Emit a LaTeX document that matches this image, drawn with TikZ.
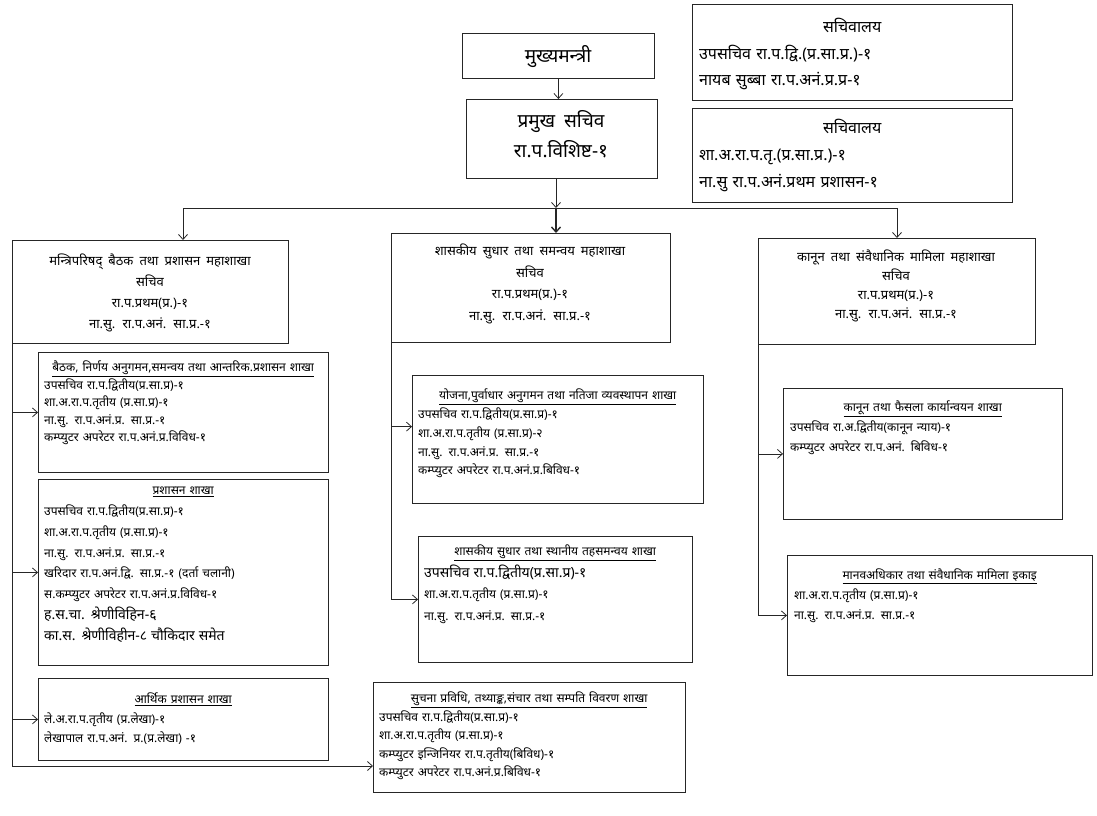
\documentclass[tikz,border=0pt]{standalone}
\usepackage{fontspec}
\newfontfamily\devfont[Script=Devanagari, WordSpace=1.8]{Noto Sans}
\usetikzlibrary{arrows.meta}
\tikzset{
  panel/.style={draw=black!85, line width=0.8pt, inner sep=0pt, anchor=north west},
  wire/.style={draw=black!85, line width=0.8pt},
  link/.style={wire, -{Straight Barb[length=5pt,width=9pt]}},
  midtxt/.style={inner sep=0pt, anchor=north, align=center},
  subtxt/.style={inner sep=0pt, anchor=north west, align=left, text width=#1},
}
\begin{document}
\begin{tikzpicture}[x=1pt, y=-1pt]
 \useasboundingbox (0,0) rectangle (1097,815);
 % top of the chart
 \node[panel, minimum width=192pt, minimum height=45pt] (cm) at (462,33) {};
 \node[midtxt, font=\devfont\fontsize{19}{30}\selectfont] (cm-t) at (558,45) {मुख्यमन्त्री};
 \node[panel, minimum width=191pt, minimum height=79pt] (ps) at (466,99) {};
 \node[midtxt, font=\devfont\fontsize{19}{30}\selectfont] (ps-t) at (561,110) {प्रमुख सचिव\\रा.प.विशिष्ट-१};
 % secretariat boxes
 \node[panel, minimum width=320pt, minimum height=96pt] (sec1) at (692,4) {};
 \node[subtxt=306pt, font=\devfont\fontsize{16}{26.5}\selectfont] (sec1-t) at (699,18) {\centerline{सचिवालय}\\उपसचिव रा.प.द्वि.(प्र.सा.प्र.)-१\\नायब सुब्बा रा.प.अनं.प्र.प्र-१};
 \node[panel, minimum width=320pt, minimum height=94pt] (sec2) at (692,108) {};
 \node[subtxt=306pt, font=\devfont\fontsize{16}{27}\selectfont] (sec2-t) at (699,119) {\centerline{सचिवालय}\\शा.अ.रा.प.तृ.(प्र.सा.प्र.)-१\\ना.सु रा.प.अनं.प्रथम प्रशासन-१};
 % divisions
 \node[panel, minimum width=276pt, minimum height=103pt] (mb1) at (12,240) {};
 \node[midtxt, font=\devfont\fontsize{13}{21}\selectfont] (mb1-t) at (150,254) {मन्त्रिपरिषद् बैठक तथा प्रशासन महाशाखा\\सचिव\\रा.प.प्रथम(प्र.)-१\\ना.सु. रा.प.अनं. सा.प्र.-१};
 \node[panel, minimum width=279pt, minimum height=109pt] (mb2) at (391,233) {};
 \node[midtxt, font=\devfont\fontsize{13}{21.5}\selectfont] (mb2-t) at (530,244) {शासकीय सुधार तथा समन्वय महाशाखा\\सचिव\\रा.प.प्रथम(प्र.)-१\\ना.सु. रा.प.अनं. सा.प्र.-१};
 \node[panel, minimum width=277pt, minimum height=106pt] (mb3) at (758,238) {};
 \node[midtxt, font=\devfont\fontsize{13}{19}\selectfont] (mb3-t) at (896,250) {कानून तथा संवैधानिक मामिला महाशाखा\\सचिव\\रा.प.प्रथम(प्र.)-१\\ना.सु. रा.प.अनं. सा.प्र.-१};
 % left column
 \node[panel, minimum width=290pt, minimum height=120pt] (l1) at (38,352) {};
 \node[subtxt=278pt, font=\devfont\fontsize{12}{17.5}\selectfont] (l1-t) at (44,361) {\centerline{\underline{बैठक, निर्णय अनुगमन,समन्वय तथा आन्तरिक.प्रशासन शाखा}}\\उपसचिव रा.प.द्वितीय(प्र.सा.प्र)-१\\शा.अ.रा.प.तृतीय (प्र.सा.प्र)-१\\ना.सु. रा.प.अनं.प्र. सा.प्र.-१\\कम्प्युटर अपरेटर रा.प.अनं.प्र.विविध-१};
 \node[panel, minimum width=290pt, minimum height=186pt] (l2) at (38,479) {};
 \node[subtxt=278pt, font=\devfont\fontsize{12}{20.8}\selectfont] (l2-t) at (44,487) {\centerline{\underline{प्रशासन शाखा}}\\उपसचिव रा.प.द्वितीय(प्र.सा.प्र)-१\\शा.अ.रा.प.तृतीय (प्र.सा.प्र)-१\\ना.सु. रा.प.अनं.प्र. सा.प्र.-१\\खरिदार रा.प.अनं.द्वि. सा.प्र.-१ (दर्ता चलानी)\\स.कम्प्युटर अपरेटर रा.प.अनं.प्र.विविध-१\\{\fontsize{14}{22}\selectfont ह.स.चा. श्रेणीविहिन-६}\\{\fontsize{14}{22}\selectfont का.स. श्रेणीविहीन-८ चौकिदार समेत}};
 \node[panel, minimum width=290pt, minimum height=82pt] (l3) at (38,678) {};
 \node[subtxt=278pt, font=\devfont\fontsize{12}{19.5}\selectfont] (l3-t) at (44,693) {\centerline{\underline{आर्थिक प्रशासन शाखा}}\\ले.अ.रा.प.तृतीय (प्र.लेखा)-१\\लेखापाल रा.प.अनं. प्र.(प्र.लेखा) -१};
 % middle column
 \node[panel, minimum width=291pt, minimum height=128pt] (m1) at (412,375) {};
 \node[subtxt=279pt, font=\devfont\fontsize{12}{18.7}\selectfont] (m1-t) at (418,389) {\centerline{\underline{योजना,पुर्वाधार अनुगमन तथा नतिजा व्यवस्थापन शाखा}}\\उपसचिव रा.प.द्वितीय(प्र.सा.प्र)-१\\शा.अ.रा.प.तृतीय (प्र.सा.प्र)-२\\ना.सु. रा.प.अनं.प्र. सा.प्र.-१\\कम्प्युटर अपरेटर रा.प.अनं.प्र.बिविध-१};
 \node[panel, minimum width=274pt, minimum height=126pt] (m2) at (418,536) {};
 \node[subtxt=262pt, font=\devfont\fontsize{12}{21.5}\selectfont] (m2-t) at (424,545) {\centerline{\underline{शासकीय सुधार तथा स्थानीय तहसमन्वय शाखा}}\\{\fontsize{14}{22}\selectfont उपसचिव रा.प.द्वितीय(प्र.सा.प्र)-१}\\शा.अ.रा.प.तृतीय (प्र.सा.प्र)-१\\ना.सु. रा.प.अनं.प्र. सा.प्र.-१};
 \node[panel, minimum width=312pt, minimum height=110pt] (m3) at (373,682) {};
 \node[subtxt=300pt, font=\devfont\fontsize{12}{18.5}\selectfont] (m3-t) at (379,692) {\centerline{\underline{सुचना प्रविधि, तथ्याङ्क,संचार तथा सम्पति विवरण शाखा}}\\उपसचिव रा.प.द्वितीय(प्र.सा.प्र)-१\\शा.अ.रा.प.तृतीय (प्र.सा.प्र)-१\\कम्प्युटर इन्जिनियर रा.प.तृतीय(बिविध)-१\\कम्प्युटर अपरेटर रा.प.अनं.प्र.बिविध-१};
 % right column
 \node[panel, minimum width=279pt, minimum height=131pt] (r1) at (783,388) {};
 \node[subtxt=265pt, font=\devfont\fontsize{12}{20}\selectfont] (r1-t) at (790,401) {\centerline{\underline{कानून तथा फैसला कार्यान्वयन शाखा}}\\उपसचिव रा.अ.द्वितीय(कानून न्याय)-१\\कम्प्युटर अपरेटर रा.प.अनं. बिविध-१};
 \node[panel, minimum width=305pt, minimum height=120pt] (r2) at (787,555) {};
 \node[subtxt=291pt, font=\devfont\fontsize{12}{20}\selectfont] (r2-t) at (794,569) {\centerline{\underline{मानवअधिकार तथा संवैधानिक मामिला इकाइ}}\\शा.अ.रा.प.तृतीय (प्र.सा.प्र)-१\\ना.सु. रा.प.अनं.प्र. सा.प्र.-१};
 % connectors
 \coordinate (splitL) at (183,208);
 \coordinate (splitM) at (556,208);
 \coordinate (splitR) at (897,208);
 \draw[link] (cm.south) -- (cm.south |- ps.north);
 \draw[link] (ps.south -| splitM) -- (splitM);
 \draw[wire] (splitL) -- (splitR);
 \draw[link] (splitL) -- (splitL |- mb1.north);
 \draw[link, line width=1.4pt] (splitM) -- (splitM |- mb2.north);
 \draw[link] (splitR) -- (splitR |- mb3.north);
 \coordinate (leftEnd) at (12,766);
 \draw[link] (mb1.south west) -- (leftEnd) -- (leftEnd -| m3.west);
 \draw[link] (leftEnd |- l1.west) -- (l1.west);
 \draw[link] (leftEnd |- l2.west) -- (l2.west);
 \draw[link] (leftEnd |- l3.west) -- (l3.west);
 \draw[wire] (mb2.south west) -- (mb2.south west |- m2.west);
 \draw[link] (mb2.south west |- m1.175) -- (m1.175);
 \draw[link] (mb2.south west |- m2.west) -- (m2.west);
 \draw[wire] (mb3.south west) -- (mb3.south west |- r2.west);
 \draw[link] (mb3.south west |- r1.west) -- (r1.west);
 \draw[link] (mb3.south west |- r2.west) -- (r2.west);
\end{tikzpicture}
\end{document}
